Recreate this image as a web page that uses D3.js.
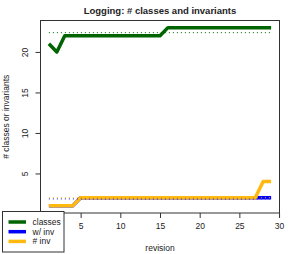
<!DOCTYPE html>
<html>
<head>
<meta charset="utf-8">
<script src="https://cdn.jsdelivr.net/npm/d3@7"></script>
<style>
  body { margin: 0; background: #fff; }
  svg { font-family: "Liberation Sans", Arial, sans-serif; }
</style>
</head>
<body>
<div id="chart"></div>
<script>
var revisions = [1,2,3,4,5,6,7,8,9,10,11,12,13,14,15,16,17,18,19,20,21,22,23,24,25,26,27,28,29];
var classes  = [21,20,22,22,22,22,22,22,22,22,22,22,22,22,22,23,23,23,23,23,23,23,23,23,23,23,23,23,23];
var withInv  = [1,1,1,1,2,2,2,2,2,2,2,2,2,2,2,2,2,2,2,2,2,2,2,2,2,2,2,2,2];
var numInv   = [1,1,1,1,2,2,2,2,2,2,2,2,2,2,2,2,2,2,2,2,2,2,2,2,2,2,2,4,4];
var seriesNames = ['classes', 'w/ inv', '# inv'];
var xTicks = [5,10,15,20,25,30];
var yTicks = [5,10,15,20];

var W = 294, H = 254;
var box = {left: 40, right: 280, top: 20.5, bottom: 213};

var svg = d3.select('#chart').append('svg')
    .attr('width', W)
    .attr('height', H);

// R style: range of data expanded by 4%
var x = d3.scaleLinear()
    .domain([-0.12, 30.12])
    .range([box.left, box.right]);

var y = d3.scaleLinear()
    .domain([0.12, 23.88])
    .range([box.bottom, box.top]);

var series = [
    {name: seriesNames[0], values: classes, color: '#006400'},
    {name: seriesNames[1], values: withInv, color: '#0000ff'},
    {name: seriesNames[2], values: numInv,  color: '#ffb90f'}
];

var line = d3.line()
    .x(function(d, i) { return x(revisions[i]); })
    .y(function(d) { return y(d); });

svg.selectAll('.series')
    .data(series)
  .enter().append('path')
    .attr('class', 'series')
    .attr('d', function(s) { return line(s.values); })
    .attr('fill', 'none')
    .attr('stroke', function(s) { return s.color; })
    .attr('stroke-width', 3.5)
    .attr('stroke-linejoin', 'round');

// mean lines, dotted
svg.selectAll('.mean')
    .data(series)
  .enter().append('line')
    .attr('class', 'mean')
    .attr('x1', x(revisions[0]))
    .attr('x2', x(revisions[revisions.length - 1]))
    .attr('y1', function(s) { return y(d3.mean(s.values)); })
    .attr('y2', function(s) { return y(d3.mean(s.values)); })
    .attr('stroke', function(s) { return s.color; })
    .attr('stroke-width', 1)
    .attr('stroke-dasharray', '1,3');

// box
svg.append('rect')
    .attr('x', box.left + 0.5)
    .attr('y', box.top)
    .attr('width', box.right - box.left - 1)
    .attr('height', box.bottom - box.top)
    .attr('fill', 'none')
    .attr('stroke', '#333');

var xAxis = svg.append('g')
    .attr('transform', 'translate(0,' + box.bottom + ')')
    .call(d3.axisBottom(x).tickValues(xTicks).tickSize(5).tickPadding(5));
xAxis.select('.domain').remove();
xAxis.selectAll('line').attr('stroke', '#333');
xAxis.selectAll('text')
    .attr('fill', '#222')
    .style('font-size', '8.5px')
    .style('font-family', '"Liberation Sans", Arial, sans-serif');

var yAxis = svg.append('g')
    .attr('transform', 'translate(' + (box.left + 0.5) + ',0)')
    .call(d3.axisLeft(y).tickValues(yTicks).tickSize(5));
yAxis.select('.domain').remove();
yAxis.selectAll('line').attr('stroke', '#333');
yAxis.selectAll('text')
    .attr('transform', 'rotate(-90)')
    .attr('x', 0)
    .attr('y', -12.5)
    .attr('dy', 0)
    .attr('text-anchor', 'middle')
    .attr('fill', '#222')
    .style('font-size', '8.5px')
    .style('font-family', '"Liberation Sans", Arial, sans-serif');

svg.append('text')
    .attr('x', (box.left + box.right) / 2)
    .attr('y', 14)
    .attr('text-anchor', 'middle')
    .style('font-size', '9.5px')
    .style('font-weight', 'bold')
    .attr('fill', '#222')
    .text('Logging: # classes and invariants');

svg.append('text')
    .attr('x', (box.left + box.right) / 2)
    .attr('y', 250.5)
    .attr('text-anchor', 'middle')
    .style('font-size', '8.5px')
    .attr('fill', '#222')
    .text('revision');

svg.append('text')
    .attr('transform', 'translate(9,' + ((box.top + box.bottom) / 2) + ') rotate(-90)')
    .attr('text-anchor', 'middle')
    .style('font-size', '8.5px')
    .attr('fill', '#222')
    .text('# classes or invariants');

// legend
var legend = svg.append('g')
    .attr('transform', 'translate(2.5,211.5)');
legend.append('rect')
    .attr('width', 61.5)
    .attr('height', 40.5)
    .attr('fill', '#fff')
    .attr('stroke', '#333');
var item = legend.selectAll('.item')
    .data(series)
  .enter().append('g')
    .attr('class', 'item')
    .attr('transform', function(d, i) { return 'translate(0,' + (10.5 + i * 9.7) + ')'; });
item.append('line')
    .attr('x1', 6)
    .attr('x2', 23.5)
    .attr('stroke', function(d) { return d.color; })
    .attr('stroke-width', 3.5);
item.append('text')
    .attr('x', 30)
    .attr('dy', '0.35em')
    .style('font-size', '8.5px')
    .attr('fill', '#222')
    .text(function(d) { return d.name; });
</script>
</body>
</html>
